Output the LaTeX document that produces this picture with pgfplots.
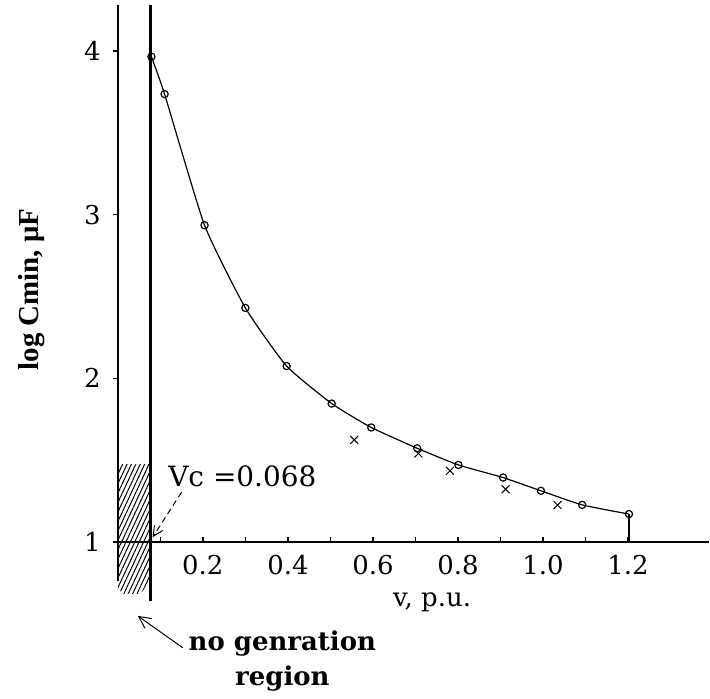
\documentclass[border=0pt]{standalone}
\usepackage{fontspec}
\setmainfont{DejaVu Serif}
\newfontfamily\labelfont{Liberation Serif}
\usepackage{pgfplots}
\pgfplotsset{compat=1.18}
\usetikzlibrary{patterns.meta,arrows.meta}

\begin{document}
\begin{tikzpicture}
\begin{axis}[
 x=213pt, y=82pt,
 xmin=0, xmax=1.39, ymin=1, ymax=4.28,
 axis x line=bottom, axis y line=left,
 axis line style={-, line width=1.1pt},
 clip=false,
 xtick={0.2,0.4,0.6,0.8,1.0,1.2},
 xticklabels={0.2,0.4,0.6,0.8,1.0,1.2},
 minor xtick={0.1,0.3,0.5,0.7,0.9,1.1},
 ytick={1,2,3,4}, yticklabels={1,2,3,4},
 tick align=inside,
 major tick length=2.5pt, minor tick length=2.5pt,
 tick style={black, line width=0.7pt},
 ytick style={xshift=-2.5pt},
 xticklabel style={font=\fontsize{13}{15}\selectfont, yshift=-3pt},
 yticklabel style={font=\fontsize{13}{15}\selectfont, xshift=-5pt},
]
% hatched no-generation region
\addplot[draw=none, pattern={Lines[angle=65,distance=2pt,line width=0.5pt]}]
  coordinates {(0,1.476) (0.077,1.476) (0.077,0.756) (0.052,0.683) (0.012,0.683) (0,0.72)} -- cycle;
% axis lines (full length) and Vc line
\addplot[line width=1.1pt] coordinates {(0,0.76) (0,4.28)};
\addplot[line width=1.1pt] coordinates {(0,1) (1.39,1)};
\addplot[line width=1.1pt] coordinates {(0.077,0.64) (0.077,4.28)};
% computed curve
\addplot[smooth, tension=0.3, line width=0.6pt, mark=o, mark size=1.8pt, mark options={line width=0.6pt}] coordinates {
 (0.079,3.965) (0.110,3.736) (0.204,2.935) (0.300,2.430) (0.397,2.075) (0.503,1.846)
 (0.596,1.700) (0.704,1.573) (0.801,1.471) (0.906,1.394) (0.995,1.313) (1.092,1.227) (1.202,1.171)};
% measured points
\addplot[only marks, mark=x, mark size=2.8pt, mark options={line width=0.5pt}] coordinates {
 (0.556,1.624) (0.707,1.541) (0.781,1.435) (0.912,1.323) (1.034,1.226)};
% drop line
\addplot[line width=0.8pt] coordinates {(1.202,1) (1.202,1.171)};
% annotations
\node[font=\fontsize{14}{16}\selectfont] at (axis cs:0.293,1.402) {Vc =0.068};
\draw[densely dashed, line width=0.5pt, -{Straight Barb[length=5pt,width=5pt]}] (axis cs:0.150,1.305) -- (axis cs:0.082,1.03);
\node[font=\bfseries\fontsize{13}{17.5}\selectfont, align=center] at (axis cs:0.387,0.274) {no genration\\region};
\draw[line width=0.5pt, -{Straight Barb[length=6pt,width=6pt]}] (axis cs:0.153,0.354) -- (axis cs:0.047,0.549);
\node[font=\fontsize{13}{15}\selectfont] at (axis cs:0.739,0.634) {v, p.u.};
\node[rotate=90, font=\labelfont\bfseries\fontsize{14.5}{17}\selectfont] at (axis cs:-0.202,2.543) {log Cmin, μF};
\path (axis cs:-0.277,0.043) rectangle (axis cs:1.39,4.311);
\end{axis}
\end{tikzpicture}
\end{document}
